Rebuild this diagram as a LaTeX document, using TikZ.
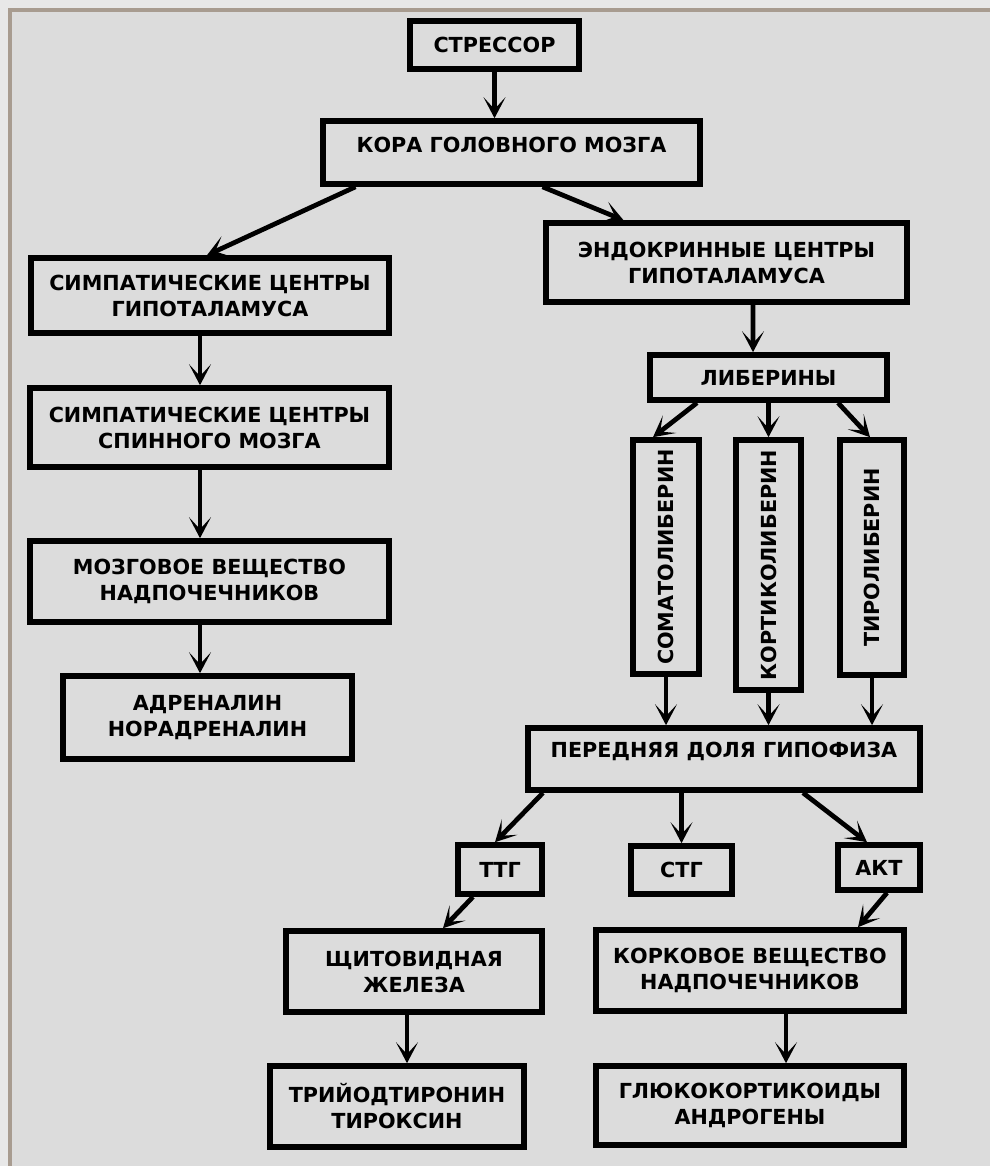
\documentclass[tikz,border=0pt]{standalone}
\usepackage{fontspec}
\setmainfont{DejaVu Sans}
\usetikzlibrary{arrows.meta,calc,positioning}
\definecolor{paper}{HTML}{DCDCDC}
\definecolor{margin}{HTML}{E8E8E8}
\definecolor{frameline}{HTML}{A89C90}
\tikzset{stage node/.style={rectangle, draw=black, line width=3.2pt, fill=paper,
    align=center, inner sep=2pt, font=\bfseries\fontsize{11.8}{14.8}\selectfont}}
\tikzset{box size/.style 2 args={minimum width=#1*0.02cm, minimum height=#2*0.02cm}}
\tikzset{upright node/.style={stage node, rotate=90}}
\tikzset{flow edge/.style={draw=black, line width=2.7pt,
    -{Stealth[length=4.2mm,width=4.4mm,inset=2.4mm]}}}

\begin{document}
\begin{tikzpicture}
      [x=0.02cm, y=-0.02cm]
      \useasboundingbox (0,0) rectangle (990,1166);
      \fill [margin] (0,0) rectangle (990,1166);
      \fill [paper]  (10,10) rectangle (990,1166);
      \draw [frameline, line width=2.3pt] (10,1166) -- (10,10) -- (990,10);

      % top
      \node [stage node, box size={169}{48}]   (stressor) at (494.5,  45)   {СТРЕССОР};
      \node [stage node, box size={377}{63}, text depth=9pt]
                                               (kora)     at (511.5, 152.5) {КОРА ГОЛОВНОГО МОЗГА};

      % left branch
      \node [stage node, box size={358}{75}]   (simpgip)  at (210,   295.5) {СИМПАТИЧЕСКИЕ ЦЕНТРЫ\\ГИПОТАЛАМУСА};
      \node [stage node, box size={359}{79}]   (simpspin) at (209.5, 427.5) {СИМПАТИЧЕСКИЕ ЦЕНТРЫ\\СПИННОГО МОЗГА};
      \node [stage node, box size={359}{81}]   (mozg)     at (209.5, 581.5) {МОЗГОВОЕ ВЕЩЕСТВО\\НАДПОЧЕЧНИКОВ};
      \node [stage node, box size={289}{83}]   (adren)    at (207.5, 717.5) {АДРЕНАЛИН\\НОРАДРЕНАЛИН};

      % right branch
      \node [stage node, box size={361}{79}]   (endo)     at (726.5, 262.5) {ЭНДОКРИННЫЕ ЦЕНТРЫ\\ГИПОТАЛАМУСА};
      \node [stage node, box size={237}{45}]   (liber)    at (768.5, 377.5) {ЛИБЕРИНЫ};
      \node [upright node, box size={234}{66}] (somato)   at (666,   557)   {СОМАТОЛИБЕРИН};
      \node [upright node, box size={250}{65}] (kortiko)  at (768.5, 565)   {КОРТИКОЛИБЕРИН};
      \node [upright node, box size={235}{64}] (tiro)     at (872,   557.5) {ТИРОЛИБЕРИН};
      \node [stage node, box size={392}{62}, text depth=10pt]
                                               (pered)    at (724,   759)   {ПЕРЕДНЯЯ ДОЛЯ ГИПОФИЗА};
      \node [stage node, box size={84}{49}]    (ttg)      at (500,   869.5) {ТТГ};
      \node [stage node, box size={101}{48}]   (stg)      at (681.5, 870)   {СТГ};
      \node [stage node, box size={82}{45}]    (akt)      at (879,   867.5) {АКТ};
      \node [stage node, box size={256}{81}]   (shchit)   at (414,   971.5) {ЩИТОВИДНАЯ\\ЖЕЛЕЗА};
      \node [stage node, box size={308}{81}]   (kork)     at (750,   970.5) {КОРКОВОЕ ВЕЩЕСТВО\\НАДПОЧЕЧНИКОВ};
      \node [stage node, box size={254}{81}]   (triyod)   at (397,  1106.5) {ТРИЙОДТИРОНИН\\ТИРОКСИН};
      \node [stage node, box size={308}{79}]   (glyuko)   at (750,  1105.5) {ГЛЮКОКОРТИКОИДЫ\\АНДРОГЕНЫ};

      \draw [flow edge] (stressor.south)              to (stressor.south |- kora.north);
      \draw [flow edge] ($(kora.south)+(-156,0)$)     to ($(simpgip.north)+(-3,0)$);
      \draw [flow edge] ($(kora.south)+(31,0)$)       to ($(endo.north)+(-103,0)$);

      \draw [flow edge] ($(simpgip.south)+(-10,0)$)   to ($(simpspin.north)+(-9.5,0)$);
      \draw [flow edge] ($(simpspin.south)+(-9.5,0)$) to ($(mozg.north)+(-9.5,0)$);
      \draw [flow edge] ($(mozg.south)+(-9.5,0)$)     to ($(adren.north)+(-7.5,0)$);

      \draw [flow edge] ($(endo.south)+(26.5,0)$)     to ($(liber.north)+(-15.5,0)$);
      \draw [flow edge] ($(liber.south)+(-71.5,0)$)   to ($(somato.east)+(-13,0)$);
      \draw [flow edge] (liber.south)                 to (kortiko.east);
      \draw [flow edge] ($(liber.south)+(69.5,0)$)    to ($(tiro.east)+(-2,0)$);
      \draw [flow edge] (somato.west)                 to (somato.west |- pered.north);
      \draw [flow edge] (kortiko.west)                to (kortiko.west |- pered.north);
      \draw [flow edge] (tiro.west)                   to (tiro.west |- pered.north);

      \draw [flow edge] ($(pered.south)+(-181,0)$)    to ($(ttg.north)+(-5,0)$);
      \draw [flow edge] (stg.north |- pered.south)    to (stg.north);
      \draw [flow edge] ($(pered.south)+(79,0)$)      to ($(akt.north)+(-12,0)$);
      \draw [flow edge] ($(ttg.south)+(-27,0)$)       to ($(shchit.north)+(29,0)$);
      \draw [flow edge] ($(akt.south)+(8,0)$)         to ($(kork.north)+(108,0)$);
      \draw [flow edge] ($(shchit.south)+(-7,0)$)     to ($(triyod.north)+(10,0)$);
      \draw [flow edge] ($(kork.south)+(36,0)$)       to ($(glyuko.north)+(36,0)$);
    \end{tikzpicture}
\end{document}
